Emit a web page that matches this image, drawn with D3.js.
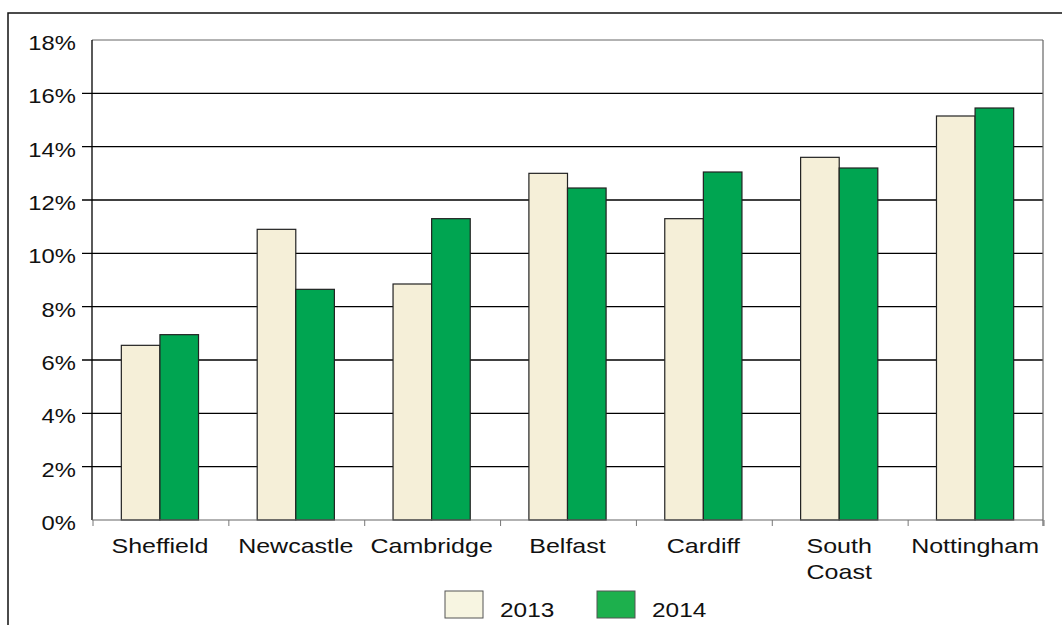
<!DOCTYPE html>
<html><head><meta charset="utf-8">
<script src="https://cdn.jsdelivr.net/npm/d3@7"></script>
<style>body{margin:0;background:#fff;} svg{display:block;font-family:"Liberation Sans",Arial,Helvetica,sans-serif;}</style>
</head><body>
<svg id="c" width="1062" height="625"></svg>
<script>
const categories = ["Sheffield","Newcastle","Cambridge","Belfast","Cardiff","South Coast","Nottingham"];
const series = ["2013","2014"];
const values2013 = [6.55, 10.9, 8.85, 13.0, 11.3, 13.6, 15.15];
const values2014 = [6.95, 8.65, 11.3, 12.45, 13.05, 13.2, 15.45];
const yTicks = [0,2,4,6,8,10,12,14,16,18];
const colors = ["#F5EFD8","#00A551"];
const legendColors = ["#F7F5E1","#1DB04D"];

const svg = d3.select("#c");
const L=92, R=1043, T=40, B=520;
const SX = 1.22;
const x = d3.scaleBand().domain(categories).range([L,R]);
const xs = d3.scaleBand().domain(series).range([0, x.bandwidth()]).paddingOuter(0.76).paddingInner(0);
const y = d3.scaleLinear().domain([0,18]).range([B,T]);

// outer frame (top + left)
svg.append("path").attr("d",`M8,625 V13 H1062`).attr("fill","none").attr("stroke","#111").attr("stroke-width",1.5);

// gridlines with tick extension
svg.append("g").selectAll("line").data(yTicks.filter(d=>d>0 && d<18)).join("line")
  .attr("x1",L-10).attr("x2",R).attr("y1",d=>y(d)).attr("y2",d=>y(d))
  .attr("stroke","#000").attr("stroke-width",1.3);
// top border
svg.append("line").attr("x1",L).attr("x2",R).attr("y1",y(18)).attr("y2",y(18)).attr("stroke","#666").attr("stroke-width",1);
// right border
svg.append("line").attr("x1",R).attr("x2",R).attr("y1",T).attr("y2",B+6).attr("stroke","#666").attr("stroke-width",1.2);

// y labels
svg.append("g").selectAll("text").data(yTicks).join("text")
  .attr("transform",d=>`translate(76,${y(d)+10}) scale(${SX},1)`).attr("text-anchor","end")
  .attr("font-size",19.5).attr("fill","#111").text(d=>d+"%");

// bars
const data = categories.map((c,i)=>({c, v:[values2013[i], values2014[i]]}));
const grp = svg.append("g").selectAll("g").data(data).join("g").attr("transform",d=>`translate(${x(d.c)},0)`);
grp.selectAll("rect").data(d=>d.v.map((v,j)=>({s:series[j],v,j}))).join("rect")
  .attr("x",d=>xs(d.s)).attr("width",xs.bandwidth())
  .attr("y",d=>y(d.v)).attr("height",d=>B-y(d.v))
  .attr("fill",d=>colors[d.j]).attr("stroke","#222").attr("stroke-width",1.2);

// y axis line
svg.append("line").attr("x1",L).attr("x2",L).attr("y1",T).attr("y2",B).attr("stroke","#000").attr("stroke-width",1.3);
// x axis line
svg.append("line").attr("x1",L).attr("x2",R).attr("y1",B).attr("y2",B).attr("stroke","#666").attr("stroke-width",1.2);
// x ticks at boundaries
const bounds = categories.map(c=>x(c)).concat([R]);
svg.append("g").selectAll("line").data(bounds).join("line")
  .attr("x1",d=>d+1).attr("x2",d=>d+1).attr("y1",B).attr("y2",B+6).attr("stroke","#777").attr("stroke-width",1);

// x labels
const xl = svg.append("g").selectAll("text").data(categories).join("text")
  .attr("transform",d=>`translate(${x(d)+x.bandwidth()/2},553) scale(${SX},1)`).attr("text-anchor","middle")
  .attr("font-size",20.5).attr("fill","#111");
xl.each(function(d){
  const words = d==="South Coast" ? ["South","Coast"] : [d];
  d3.select(this).selectAll("tspan").data(words).join("tspan")
    .attr("x",0).attr("dy",(w,i)=>i===0?0:26).text(w=>w);
});

// legend
const lx=[445,597];
const lg = svg.append("g").selectAll("g").data(series).join("g");
lg.append("rect").attr("x",(d,i)=>lx[i]).attr("y",591).attr("width",38).attr("height",27)
  .attr("fill",(d,i)=>legendColors[i]).attr("stroke","#555").attr("stroke-width",1);
lg.append("text").attr("transform",(d,i)=>`translate(${lx[i]+55},617) scale(${SX},1)`)
  .attr("font-size",20).attr("fill","#111").text(d=>d);
</script>
</body></html>
